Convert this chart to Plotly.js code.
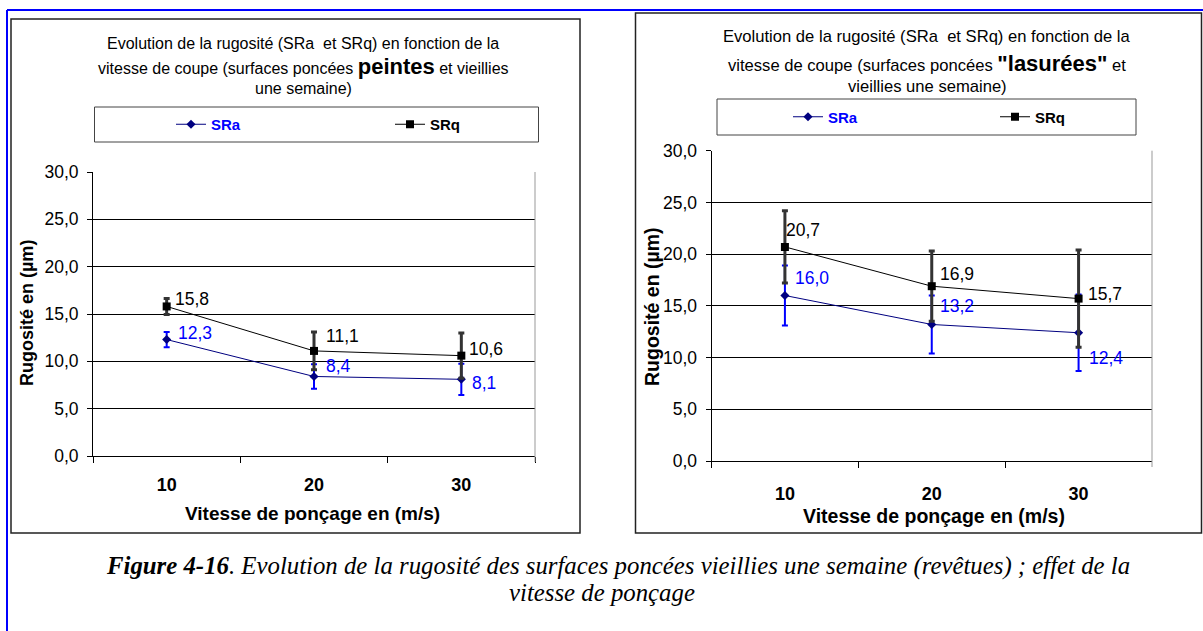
<!DOCTYPE html>
<html>
<head>
<meta charset="utf-8">
<script src="https://cdn.plot.ly/plotly-3.0.1.min.js"></script>
<style>
  html, body { margin: 0; padding: 0; background: #fff; overflow: hidden; }
  #chart { width: 1203px; height: 631px; }
</style>
</head>
<body>
<div id="chart"></div>
<script>
// ---------- DATA ----------
const categories = ['10', '20', '30'];

// Left chart: surfaces peintes
const peintesSRa = [12.3, 8.4, 8.1];
const peintesSRaErr = [0.8, 1.3, 1.65];
const peintesSRq = [15.8, 11.1, 10.6];
const peintesSRqErr = [0.85, 2.0, 2.4];

// Right chart: surfaces lasurées
const lasureesSRa = [16.0, 13.2, 12.4];
const lasureesSRaErr = [2.9, 2.8, 3.7];
const lasureesSRq = [20.7, 16.9, 15.7];
const lasureesSRqErr = [3.5, 3.4, 4.7];

const seriesNames = ['SRa', 'SRq'];
const yTickValues = [0, 5, 10, 15, 20, 25, 30];

// ---------- HELPERS ----------
const W = 1203, H = 631;
const px = x => x / W;
const py = y => 1 - y / H;
const fmt = v => v.toFixed(1).replace('.', ',');
const SANS = 'Liberation Sans, Arial, sans-serif';
const SERIF = 'Liberation Serif, Times New Roman, serif';

const sraLine = '#000080';
const sraText = '#0000ff';

function makeTraces(sra, sraErr, srq, srqErr, xa, ya, legendId) {
  return [
    {
      x: categories, y: sra, xaxis: xa, yaxis: ya, legend: legendId,
      name: '<b><span style="color:#0000ff">' + seriesNames[0] + '</span></b>',
      type: 'scatter', mode: 'lines+markers',
      line: { color: sraLine, width: 1 },
      marker: { symbol: 'diamond', size: 7, color: sraLine },
      error_y: { type: 'data', array: sraErr, visible: true, color: '#0000ff', thickness: 2, width: 3 },
      hoverinfo: 'skip'
    },
    {
      x: categories, y: srq, xaxis: xa, yaxis: ya, legend: legendId,
      name: '<b>' + seriesNames[1] + '</b>',
      type: 'scatter', mode: 'lines+markers',
      line: { color: '#000000', width: 1 },
      marker: { symbol: 'square', size: 8, color: '#000000' },
      error_y: { type: 'data', array: srqErr, visible: true, color: '#333333', thickness: 3, width: 3 },
      hoverinfo: 'skip'
    }
  ];
}

const data = [
  ...makeTraces(peintesSRa, peintesSRaErr, peintesSRq, peintesSRqErr, 'x', 'y', 'legend'),
  ...makeTraces(lasureesSRa, lasureesSRaErr, lasureesSRq, lasureesSRqErr, 'x2', 'y2', 'legend2')
];

// ---------- AXES ----------
function xAxis(domain, anchor, standoff) {
  return {
    domain: domain, anchor: anchor, type: 'category', range: [-0.5, 2.5],
    tickson: 'boundaries', ticks: 'outside', ticklen: 6, tickcolor: '#000',
    showline: true, linecolor: '#000', linewidth: 1, showgrid: false,
    tickfont: { family: SANS, size: 18, color: '#000', weight: 'bold' },
    ticklabelstandoff: standoff, fixedrange: true
  };
}
function yAxis(domain, anchor) {
  return {
    domain: domain, anchor: anchor, range: [0, 30],
    tickvals: yTickValues, ticktext: yTickValues.map(fmt),
    ticks: 'outside', ticklen: 5, tickcolor: '#000',
    showline: true, linecolor: '#000', linewidth: 1,
    showgrid: true, gridcolor: '#000', gridwidth: 1, zeroline: false,
    tickfont: { family: SANS, size: 17.5, color: '#000' },
    ticklabelstandoff: 5, fixedrange: true
  };
}

// plot area pixel boxes
const L = { x0: 93, x1: 535, y0: 172, y1: 456 };
const R = { x0: 711.5, x1: 1152, y0: 150.7, y1: 461 };

// ---------- SHAPES ----------
const shapes = [
  // blue outer frame
  { type: 'line', xref: 'paper', yref: 'paper', x0: px(7), x1: px(7), y0: py(10), y1: py(631), line: { color: '#0000ff', width: 2 } },
  { type: 'line', xref: 'paper', yref: 'paper', x0: px(7), x1: px(1203), y0: py(10), y1: py(10), line: { color: '#0000ff', width: 2 } },
  // chart boxes
  { type: 'rect', xref: 'paper', yref: 'paper', x0: px(11), x1: px(580), y0: py(19), y1: py(533), line: { color: '#222', width: 1.5 } },
  { type: 'rect', xref: 'paper', yref: 'paper', x0: px(635.5), x1: px(1201.5), y0: py(13), y1: py(533), line: { color: '#222', width: 1.5 } },
  // legend boxes
  { type: 'rect', xref: 'paper', yref: 'paper', x0: px(94.5), x1: px(538.5), y0: py(107), y1: py(142), line: { color: '#444', width: 1 } },
  { type: 'rect', xref: 'paper', yref: 'paper', x0: px(717), x1: px(1136), y0: py(99), y1: py(135), line: { color: '#444', width: 1 } },
  // plot area right borders
  { type: 'line', xref: 'paper', yref: 'paper', x0: px(L.x1), x1: px(L.x1), y0: py(L.y0), y1: py(L.y1 + 6), line: { color: '#999', width: 1 } },
  { type: 'line', xref: 'paper', yref: 'paper', x0: px(R.x1), x1: px(R.x1), y0: py(R.y0), y1: py(R.y1 + 6), line: { color: '#999', width: 1 } }
];

// ---------- ANNOTATIONS ----------
const annotations = [];
function addText(text, x, y, size, opts) {
  annotations.push(Object.assign({
    text: text, xref: 'paper', yref: 'paper', x: px(x), y: py(y),
    xanchor: 'center', yanchor: 'middle', showarrow: false,
    font: { family: SANS, size: size, color: '#000' }
  }, opts || {}));
}

// chart titles
const bigWord = s => '<b><span style="font-size:22px">' + s + '</span></b>';
addText('Evolution de la rugosité (SRa  et SRq) en fonction de la', 303, 43, 16);
addText('vitesse de coupe (surfaces poncées ' + bigWord('peintes') + ' et vieillies', 303, 66, 16);
addText('une semaine)', 303, 88, 16);
addText('Evolution de la rugosité (SRa  et SRq) en fonction de la', 927, 36, 16.6);
addText('vitesse de coupe (surfaces poncées ' + bigWord('"lasurées"') + ' et', 927, 63, 16.6);
addText('vieillies une semaine)', 927, 87, 16.6);

// axis titles
addText('<b>Vitesse de ponçage en (m/s)</b>', 312, 513, 19);
addText('<b>Vitesse de ponçage en (m/s)</b>', 934, 516, 19.5);
addText('<b>Rugosité en (µm)</b>', 27, 313, 18, { textangle: -90 });
addText('<b>Rugosité en (µm)</b>', 652, 307, 19.5, { textangle: -90 });

// caption
annotations.push({
  text: '<b><i>Figure 4-16</i></b><i>. Evolution de la rugosité des surfaces poncées vieillies une semaine (revêtues) ; effet de la</i>',
  xref: 'paper', yref: 'paper', x: px(618), y: py(566), xanchor: 'center', yanchor: 'middle', showarrow: false,
  font: { family: SERIF, size: 24.8, color: '#000' }
});
annotations.push({
  text: '<i>vitesse de ponçage</i>',
  xref: 'paper', yref: 'paper', x: px(602), y: py(592), xanchor: 'center', yanchor: 'middle', showarrow: false,
  font: { family: SERIF, size: 24.8, color: '#000' }
});

// data labels (offsets are styling only)
const labelShift = {
  left:  { sra: [[9, 7], [10, 10], [9, -4]], srq: [[6, 7], [10, 15], [6, 7]] },
  right: { sra: [[8, 18], [6, 18], [8, -25]], srq: [[-1, 17], [6, 12], [7, 5]] }
};
function addLabels(values, xa, ya, color, shifts) {
  values.forEach((v, i) => {
    annotations.push({
      text: fmt(v), x: i, y: v, xref: xa, yref: ya,
      xanchor: 'left', yanchor: 'middle', showarrow: false,
      xshift: shifts[i][0], yshift: shifts[i][1],
      font: { family: SANS, size: 17.5, color: color }
    });
  });
}
addLabels(peintesSRa, 'x', 'y', sraText, labelShift.left.sra);
addLabels(peintesSRq, 'x', 'y', '#000', labelShift.left.srq);
addLabels(lasureesSRa, 'x2', 'y2', sraText, labelShift.right.sra);
addLabels(lasureesSRq, 'x2', 'y2', '#000', labelShift.right.srq);

// ---------- LAYOUT ----------
const legendCommon = {
  orientation: 'h', xanchor: 'left', yanchor: 'middle',
  bgcolor: 'rgba(0,0,0,0)', borderwidth: 0,
  entrywidthmode: 'pixels',
  font: { family: SANS, size: 15, color: '#000' },
  itemclick: false, itemdoubleclick: false
};

const layout = {
  width: W, height: H,
  margin: { l: 0, r: 0, t: 0, b: 0, pad: 0, autoexpand: false },
  paper_bgcolor: '#fff', plot_bgcolor: 'rgba(0,0,0,0)',
  separators: ', ',
  showlegend: true,
  xaxis: xAxis([px(L.x0), px(L.x1)], 'y', 12),
  yaxis: yAxis([py(L.y1), py(L.y0)], 'x'),
  xaxis2: xAxis([px(R.x0), px(R.x1)], 'y2', 16),
  yaxis2: yAxis([py(R.y1), py(R.y0)], 'x2'),
  legend: Object.assign({}, legendCommon, { x: px(171), y: py(124.5), entrywidth: 174 }),
  legend2: Object.assign({}, legendCommon, { x: px(788), y: py(117), entrywidth: 162 }),
  shapes: shapes,
  annotations: annotations
};

Plotly.newPlot('chart', data, layout, { staticPlot: true, displayModeBar: false });
</script>
</body>
</html>
